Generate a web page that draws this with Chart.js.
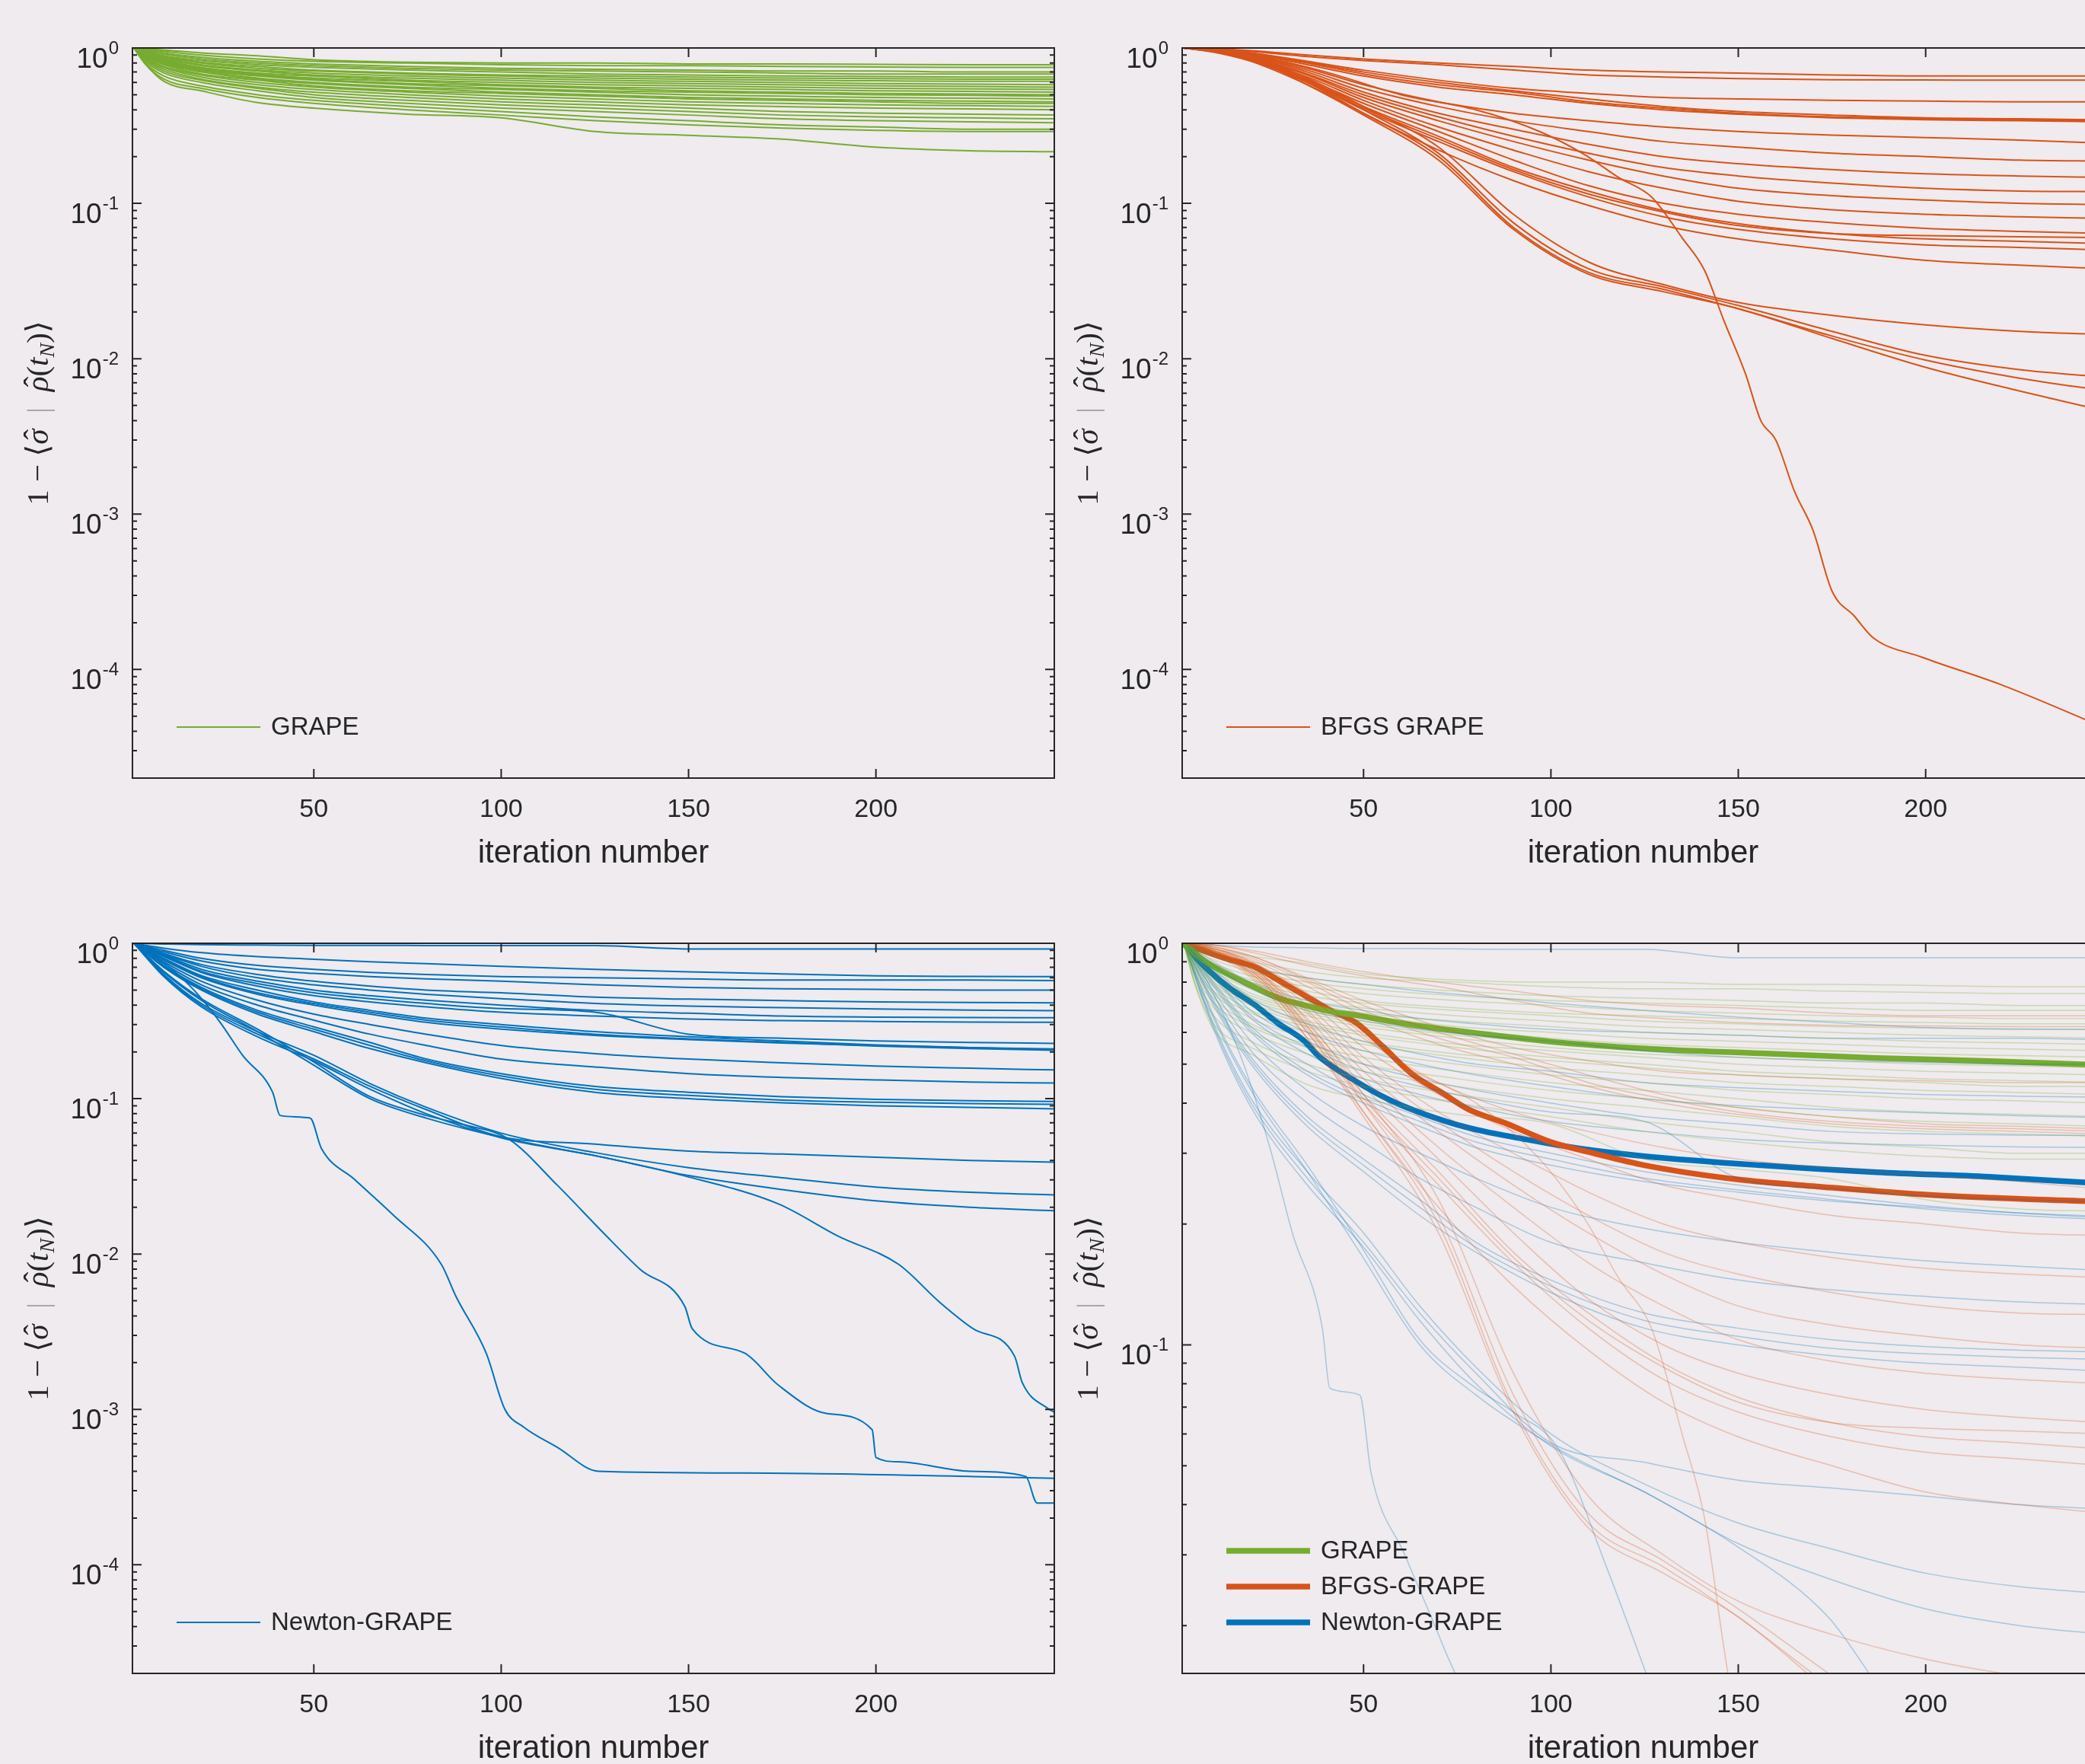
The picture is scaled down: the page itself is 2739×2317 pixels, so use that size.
<!DOCTYPE html>
<html>
<head>
<meta charset="utf-8">
<script src="https://cdn.jsdelivr.net/npm/chart.js@4.4.1/dist/chart.umd.min.js"></script>
<style>
  html, body { margin: 0; padding: 0; background: #efebee; width: 2739px; height: 2317px; overflow: hidden; }
  body { position: relative; }
  canvas { position: absolute; }
</style>
</head>
<body>
<canvas id="grapeChart" width="1420" height="1180" style="left:0;top:0"></canvas>
<canvas id="bfgsChart" width="1420" height="1180" style="left:1379px;top:0"></canvas>
<canvas id="newtonChart" width="1420" height="1180" style="left:0;top:1176px"></canvas>
<canvas id="compareChart" width="1420" height="1180" style="left:1379px;top:1176px"></canvas>
<script>
// axis ranges and ticks
const xMin = 1.6, xMax = 247.6;
const xTickValues = [50, 100, 150, 200];
const yMinRuns = 2e-5;
const yMinCompare = 0.0152;

// GRAPE runs (top left)
const grapeIters = [2, 5, 10, 20, 35, 50, 75, 100, 125, 150, 175, 200, 225, 248];
const grapeRuns = [
  [1, 0.99, 0.97, 0.93, 0.89, 0.84, 0.81, 0.80, 0.80, 0.79, 0.79, 0.785, 0.78, 0.78],
  [1, 0.98, 0.95, 0.90, 0.85, 0.82, 0.80, 0.78, 0.77, 0.77, 0.76, 0.755, 0.75, 0.75],
  [1, 0.97, 0.93, 0.87, 0.82, 0.79, 0.76, 0.74, 0.73, 0.72, 0.71, 0.71, 0.70, 0.70],
  [1, 0.96, 0.91, 0.85, 0.80, 0.77, 0.74, 0.72, 0.71, 0.70, 0.69, 0.68, 0.68, 0.68],
  [1, 0.95, 0.89, 0.83, 0.78, 0.75, 0.72, 0.70, 0.68, 0.67, 0.66, 0.655, 0.65, 0.65],
  [1, 0.95, 0.88, 0.81, 0.76, 0.72, 0.69, 0.67, 0.66, 0.65, 0.64, 0.635, 0.63, 0.63],
  [1, 0.94, 0.87, 0.80, 0.74, 0.71, 0.68, 0.66, 0.64, 0.63, 0.62, 0.615, 0.61, 0.61],
  [1, 0.93, 0.86, 0.78, 0.72, 0.69, 0.66, 0.64, 0.62, 0.61, 0.60, 0.59, 0.585, 0.58],
  [1, 0.93, 0.85, 0.77, 0.71, 0.67, 0.64, 0.62, 0.60, 0.59, 0.58, 0.57, 0.565, 0.56],
  [1, 0.92, 0.84, 0.75, 0.69, 0.66, 0.62, 0.60, 0.58, 0.57, 0.56, 0.55, 0.545, 0.54],
  [1, 0.92, 0.83, 0.74, 0.68, 0.64, 0.61, 0.58, 0.56, 0.55, 0.54, 0.53, 0.525, 0.52],
  [1, 0.91, 0.82, 0.73, 0.67, 0.63, 0.59, 0.57, 0.55, 0.53, 0.52, 0.51, 0.505, 0.50],
  [1, 0.90, 0.81, 0.72, 0.66, 0.62, 0.58, 0.55, 0.53, 0.52, 0.51, 0.50, 0.495, 0.49],
  [1, 0.90, 0.80, 0.71, 0.64, 0.60, 0.56, 0.54, 0.52, 0.50, 0.49, 0.48, 0.475, 0.47],
  [1, 0.89, 0.79, 0.70, 0.63, 0.59, 0.55, 0.52, 0.50, 0.48, 0.47, 0.46, 0.455, 0.45],
  [1, 0.88, 0.78, 0.68, 0.62, 0.57, 0.53, 0.51, 0.49, 0.47, 0.46, 0.45, 0.44, 0.44],
  [1, 0.87, 0.76, 0.67, 0.60, 0.56, 0.52, 0.49, 0.47, 0.45, 0.44, 0.43, 0.425, 0.42],
  [1, 0.86, 0.75, 0.65, 0.58, 0.54, 0.50, 0.47, 0.45, 0.43, 0.42, 0.41, 0.405, 0.40],
  [1, 0.85, 0.73, 0.63, 0.56, 0.52, 0.48, 0.45, 0.43, 0.41, 0.39, 0.38, 0.375, 0.37],
  [1, 0.84, 0.71, 0.62, 0.55, 0.50, 0.46, 0.43, 0.41, 0.39, 0.37, 0.36, 0.355, 0.35],
  [1, 0.82, 0.69, 0.60, 0.53, 0.48, 0.44, 0.41, 0.39, 0.37, 0.35, 0.34, 0.335, 0.33],
  [1, 0.80, 0.66, 0.57, 0.50, 0.46, 0.42, 0.39, 0.36, 0.34, 0.32, 0.31, 0.30, 0.30],
  [1, 0.79, 0.63, 0.55, 0.48, 0.44, 0.40, 0.37, 0.34, 0.32, 0.305, 0.295, 0.29, 0.29],
  [1, 0.79, 0.61, 0.53, 0.445, 0.41, 0.375, 0.355, 0.29, 0.274, 0.259, 0.23, 0.218, 0.215]
];

// BFGS GRAPE runs (top right)
const bfgsIters = [2, 10, 20, 35, 50, 70, 90, 110, 130, 150, 175, 200, 225, 248];
const bfgsRuns = [
  [1, 0.99, 0.96, 0.90, 0.85, 0.80, 0.76, 0.72, 0.70, 0.69, 0.67, 0.66, 0.66, 0.66],
  [1, 0.99, 0.95, 0.88, 0.83, 0.78, 0.72, 0.67, 0.65, 0.635, 0.625, 0.623, 0.62, 0.62],
  [1, 0.98, 0.93, 0.82, 0.72, 0.62, 0.55, 0.51, 0.48, 0.47, 0.46, 0.455, 0.45, 0.45],
  [1, 0.98, 0.92, 0.80, 0.68, 0.58, 0.52, 0.45, 0.41, 0.38, 0.36, 0.35, 0.345, 0.34],
  [1, 0.97, 0.91, 0.78, 0.66, 0.56, 0.50, 0.44, 0.40, 0.375, 0.355, 0.345, 0.34, 0.335],
  [1, 0.98, 0.93, 0.81, 0.70, 0.60, 0.53, 0.47, 0.42, 0.39, 0.37, 0.355, 0.35, 0.345],
  [1, 0.97, 0.90, 0.74, 0.58, 0.45, 0.38, 0.34, 0.31, 0.29, 0.275, 0.265, 0.255, 0.244],
  [1, 0.97, 0.89, 0.72, 0.55, 0.42, 0.34, 0.29, 0.25, 0.23, 0.21, 0.20, 0.19, 0.187],
  [1, 0.96, 0.88, 0.70, 0.52, 0.38, 0.30, 0.24, 0.20, 0.18, 0.165, 0.155, 0.15, 0.147],
  [1, 0.96, 0.87, 0.68, 0.50, 0.36, 0.27, 0.21, 0.17, 0.15, 0.135, 0.125, 0.12, 0.119],
  [1, 0.96, 0.86, 0.67, 0.48, 0.34, 0.25, 0.19, 0.15, 0.125, 0.112, 0.105, 0.10, 0.098],
  [1, 0.95, 0.85, 0.65, 0.46, 0.31, 0.22, 0.16, 0.125, 0.103, 0.091, 0.085, 0.082, 0.080],
  [1, 0.95, 0.85, 0.63, 0.44, 0.29, 0.19, 0.13, 0.10, 0.085, 0.075, 0.069, 0.066, 0.064],
  [1, 0.95, 0.84, 0.61, 0.41, 0.26, 0.165, 0.115, 0.088, 0.072, 0.064, 0.062, 0.061, 0.060],
  [1, 0.95, 0.84, 0.62, 0.42, 0.27, 0.17, 0.12, 0.09, 0.074, 0.064, 0.059, 0.057, 0.055],
  [1, 0.95, 0.83, 0.60, 0.40, 0.25, 0.16, 0.11, 0.082, 0.068, 0.059, 0.054, 0.052, 0.050],
  [1, 0.94, 0.82, 0.58, 0.38, 0.22, 0.14, 0.097, 0.072, 0.059, 0.05, 0.043, 0.04, 0.038],
  [1, 0.96, 0.88, 0.64, 0.42, 0.23, 0.085, 0.042, 0.03, 0.023, 0.019, 0.0165, 0.015, 0.0143],
  [1, 0.96, 0.88, 0.62, 0.40, 0.21, 0.075, 0.038, 0.029, 0.022, 0.015, 0.0105, 0.0085, 0.0076],
  [1, 0.95, 0.87, 0.60, 0.38, 0.20, 0.07, 0.036, 0.028, 0.021, 0.014, 0.0098, 0.0075, 0.0062],
  [1, 0.95, 0.86, 0.58, 0.37, 0.19, 0.068, 0.035, 0.027, 0.021, 0.0135, 0.0088, 0.0062, 0.0046]
];
const bfgsFastIters = [2, 10, 20, 40, 60, 80, 97, 109, 118, 127, 135, 141, 146, 152, 156, 160, 165, 170, 175, 181, 186, 199, 220, 248];
const bfgsFastRun = [1, 0.97, 0.90, 0.70, 0.50, 0.40, 0.29, 0.206, 0.147, 0.109, 0.06, 0.037, 0.018, 0.0079, 0.004, 0.003, 0.0014, 0.00078, 0.00032, 0.00022, 0.00016, 0.00012, 0.00008, 0.000042];

// Newton-GRAPE runs (bottom left)
const newtonIters = [2, 10, 20, 35, 50, 65, 80, 100, 125, 150, 175, 200, 225, 248];
const newtonRuns = [
  [1, 0.99, 0.98, 0.975, 0.97, 0.97, 0.967, 0.966, 0.966, 0.92, 0.92, 0.92, 0.92, 0.92],
  [1, 0.93, 0.87, 0.82, 0.79, 0.76, 0.74, 0.71, 0.68, 0.655, 0.635, 0.617, 0.612, 0.61],
  [1, 0.90, 0.80, 0.72, 0.68, 0.65, 0.63, 0.61, 0.60, 0.59, 0.58, 0.58, 0.58, 0.575],
  [1, 0.88, 0.77, 0.68, 0.64, 0.61, 0.59, 0.57, 0.54, 0.52, 0.51, 0.505, 0.50, 0.50],
  [1, 0.86, 0.73, 0.63, 0.57, 0.53, 0.50, 0.48, 0.45, 0.437, 0.428, 0.42, 0.416, 0.414],
  [1, 0.85, 0.71, 0.60, 0.54, 0.50, 0.47, 0.44, 0.41, 0.394, 0.385, 0.378, 0.372, 0.368],
  [1, 0.84, 0.68, 0.57, 0.50, 0.46, 0.43, 0.40, 0.37, 0.355, 0.34, 0.335, 0.333, 0.332],
  [1, 0.83, 0.66, 0.55, 0.48, 0.44, 0.41, 0.38, 0.36, 0.26, 0.245, 0.235, 0.23, 0.227],
  [1, 0.82, 0.65, 0.53, 0.46, 0.42, 0.39, 0.36, 0.34, 0.325, 0.318, 0.314, 0.311, 0.31],
  [1, 0.80, 0.62, 0.50, 0.42, 0.37, 0.33, 0.30, 0.27, 0.25, 0.235, 0.222, 0.213, 0.207],
  [1, 0.79, 0.61, 0.48, 0.41, 0.36, 0.32, 0.29, 0.26, 0.243, 0.23, 0.218, 0.21, 0.205],
  [1, 0.78, 0.60, 0.47, 0.40, 0.35, 0.31, 0.28, 0.255, 0.24, 0.228, 0.22, 0.213, 0.209],
  [1, 0.76, 0.57, 0.43, 0.35, 0.30, 0.26, 0.22, 0.195, 0.18, 0.17, 0.162, 0.157, 0.153],
  [1, 0.74, 0.54, 0.40, 0.32, 0.26, 0.22, 0.18, 0.16, 0.145, 0.137, 0.132, 0.128, 0.126],
  [1, 0.72, 0.52, 0.37, 0.29, 0.23, 0.18, 0.145, 0.12, 0.11, 0.103, 0.099, 0.097, 0.096],
  [1, 0.71, 0.51, 0.36, 0.28, 0.22, 0.175, 0.14, 0.115, 0.105, 0.098, 0.095, 0.093, 0.092],
  [1, 0.70, 0.50, 0.35, 0.27, 0.21, 0.17, 0.135, 0.11, 0.10, 0.094, 0.09, 0.088, 0.086],
  [1, 0.62, 0.40, 0.26, 0.18, 0.12, 0.085, 0.057, 0.051, 0.046, 0.044, 0.042, 0.040, 0.039],
  [1, 0.61, 0.39, 0.25, 0.175, 0.115, 0.08, 0.056, 0.043, 0.032, 0.026, 0.022, 0.020, 0.019],
  [1, 0.63, 0.41, 0.27, 0.19, 0.125, 0.088, 0.06, 0.045, 0.036, 0.031, 0.027, 0.025, 0.024]
];
const newtonFastIters = [
  [2, 10, 18, 25, 31, 39, 41, 49, 52, 61, 71, 84, 88, 96, 101, 106, 115, 126, 165, 226, 248],
  [2, 10, 20, 35, 49, 65, 80, 90, 102, 115, 127, 137, 149, 151, 165, 174, 187, 199, 200, 206, 225, 240, 243, 248],
  [2, 10, 20, 35, 49, 65, 80, 102, 127, 149, 174, 190, 206, 217, 226, 237, 239, 246, 248]
];
const newtonFastRuns = [
  [1, 0.75, 0.50, 0.31, 0.19, 0.11, 0.078, 0.075, 0.048, 0.03, 0.018, 0.0086, 0.0053, 0.0023, 0.001, 0.00077, 0.00057, 0.0004, 0.00039, 0.00037, 0.00036],
  [1, 0.66, 0.44, 0.28, 0.178, 0.103, 0.078, 0.068, 0.055, 0.0277, 0.0139, 0.008, 0.0046, 0.0033, 0.0023, 0.00143, 0.00094, 0.00074, 0.00049, 0.00046, 0.0004, 0.00037, 0.00025, 0.00025],
  [1, 0.65, 0.43, 0.27, 0.17, 0.10, 0.075, 0.055, 0.042, 0.0318, 0.021, 0.013, 0.0086, 0.0049, 0.0033, 0.0022, 0.0015, 0.00101, 0.00095]
];

// averaged curves (bottom right)
const grapeMeanIters = [2, 7, 14, 21, 27, 34, 41, 48, 63, 78, 100, 125, 156, 187, 217, 248];
const grapeMean = [1, 0.912, 0.836, 0.777, 0.733, 0.702, 0.677, 0.662, 0.626, 0.601, 0.569, 0.547, 0.532, 0.518, 0.509, 0.497];
const bfgsMeanIters = [2, 7, 14, 21, 27, 34, 41, 48, 55, 63, 71, 78, 88, 100, 112, 125, 150, 171, 202, 248];
const bfgsMean = [1, 0.96, 0.912, 0.873, 0.812, 0.744, 0.682, 0.634, 0.555, 0.472, 0.424, 0.386, 0.356, 0.32, 0.299, 0.28, 0.258, 0.248, 0.236, 0.227];
const newtonMeanIters = [2, 7, 14, 21, 27, 34, 38, 48, 57, 66, 78, 94, 109, 125, 156, 187, 217, 248];
const newtonMean = [1, 0.886, 0.777, 0.702, 0.634, 0.573, 0.524, 0.453, 0.407, 0.376, 0.347, 0.324, 0.307, 0.295, 0.28, 0.269, 0.262, 0.252];

const GREEN = '#77ac30', ORANGE = '#d95319', BLUE = '#0072bd';
const GREEN_FADE = 'rgba(119,172,48,0.3)', ORANGE_FADE = 'rgba(217,83,25,0.3)', BLUE_FADE = 'rgba(0,114,189,0.3)';
const INK = '#262626';
const SANS = '"Liberation Sans", Arial, Helvetica, sans-serif';
const SERIF = '"Liberation Serif", "DejaVu Serif", serif';

function lineSet(iters, vals, color, width) {
  return {
    data: vals.map((v, i) => ({ x: iters[i], y: v })),
    borderColor: color,
    borderWidth: width,
    pointRadius: 0,
    cubicInterpolationMode: 'monotone',
    fill: false
  };
}

function runSets(iters, runs, color, width) {
  return runs.map(vals => lineSet(iters, vals, color, width));
}

// box, inward ticks, y labels with exponents, y title and legend, drawn like the original figure
const matlabAxes = {
  id: 'matlabAxes',
  afterDraw(chart, args, opts) {
    const ctx = chart.ctx;
    const a = chart.chartArea;
    const xs = chart.scales.x, ys = chart.scales.y;
    ctx.save();

    ctx.strokeStyle = INK;
    ctx.lineWidth = 2;
    ctx.beginPath();
    ctx.rect(a.left, a.top, a.right - a.left, a.bottom - a.top);
    xTickValues.forEach(v => {
      const px = xs.getPixelForValue(v);
      ctx.moveTo(px, a.bottom); ctx.lineTo(px, a.bottom - 12);
      ctx.moveTo(px, a.top); ctx.lineTo(px, a.top + 12);
    });
    for (let k = -5; k <= 0; k++) {
      for (let m = 1; m <= 9; m++) {
        const v = m * Math.pow(10, k);
        if (v < ys.min * 0.999 || v > ys.max * 1.001) continue;
        const py = ys.getPixelForValue(v);
        const len = m === 1 ? 12 : 6;
        ctx.moveTo(a.left, py); ctx.lineTo(a.left + len, py);
        ctx.moveTo(a.right, py); ctx.lineTo(a.right - len, py);
      }
    }
    ctx.stroke();

    // decade labels 10^k
    ctx.fillStyle = INK;
    ctx.textAlign = 'left';
    ctx.textBaseline = 'alphabetic';
    for (let k = -5; k <= 0; k++) {
      const v = Math.pow(10, k);
      if (v < ys.min) continue;
      const py = ys.getPixelForValue(v);
      const exp = k === 0 ? '0' : '-' + (-k);
      const right = a.left - 18;
      ctx.font = '24px ' + SANS;
      const we = ctx.measureText(exp).width;
      ctx.fillText(exp, right - we, py + 8);
      ctx.font = '37px ' + SANS;
      const wb = ctx.measureText('10').width;
      ctx.fillText('10', right - we - wb - 1, py + 26);
    }

    // y title: 1 − ⟨σ̂ | ρ̂(t_N)⟩
    const F = 41;
    const up = F + 'px ' + SERIF, it = 'italic ' + F + 'px ' + SERIF;
    const parts = [
      { t: '1 \u2212 \u27e8', f: up },
      { t: '\u03c3', f: it, hat: true },
      { t: '\u2002|\u2002', f: up, c: '#a8a8a8' },
      { t: '\u03c1', f: it, hat: true },
      { t: '(', f: up },
      { t: 't', f: it },
      { t: 'N', f: 'italic 28px ' + SERIF, dy: 8 },
      { t: ')\u27e9', f: up }
    ];
    let total = 0;
    parts.forEach(p => { ctx.font = p.f; p.w = ctx.measureText(p.t).width; total += p.w; });
    ctx.translate(a.left - 111, (a.top + a.bottom) / 2);
    ctx.rotate(-Math.PI / 2);
    let x = -total / 2;
    parts.forEach(p => {
      ctx.font = p.f;
      ctx.fillStyle = p.c || INK;
      ctx.fillText(p.t, x, p.dy || 0);
      if (p.hat) {
        ctx.font = F + 'px ' + SERIF;
        const hw = ctx.measureText('\u02c6').width;
        ctx.fillText('\u02c6', x + p.w / 2 - hw / 2 + 3, -4);
      }
      x += p.w;
    });
    ctx.setTransform(1, 0, 0, 1, 0, 0);

    // legend in the lower left corner
    const items = opts.legend || [];
    ctx.textBaseline = 'middle';
    ctx.font = '33px ' + SANS;
    items.forEach((item, i) => {
      const y = a.bottom - 67 - (items.length - 1 - i) * 47;
      ctx.strokeStyle = item.color;
      ctx.lineWidth = item.width;
      ctx.beginPath();
      ctx.moveTo(a.left + 58, y);
      ctx.lineTo(a.left + 168, y);
      ctx.stroke();
      ctx.fillStyle = INK;
      ctx.fillText(item.label, a.left + 182, y + 1);
    });
    ctx.restore();
  }
};

function panelConfig(datasets, yMin, legendItems) {
  return {
    type: 'line',
    data: { datasets: datasets },
    options: {
      responsive: false,
      animation: false,
      events: [],
      layout: { autoPadding: false, padding: { top: 63, right: 35, left: 0, bottom: 0 } },
      plugins: {
        legend: { display: false },
        tooltip: { enabled: false },
        matlabAxes: { legend: legendItems }
      },
      scales: {
        x: {
          type: 'linear',
          min: xMin,
          max: xMax,
          afterFit: s => { s.height = 158; },
          afterBuildTicks: s => { s.ticks = xTickValues.map(v => ({ value: v })); },
          grid: { display: false },
          border: { display: false },
          ticks: { font: { size: 34, family: SANS }, color: INK, padding: 13, maxRotation: 0, autoSkip: false },
          title: {
            display: true,
            text: 'iteration number',
            font: { size: 42, family: SANS },
            color: INK,
            padding: { top: 0, bottom: 33 }
          }
        },
        y: {
          type: 'logarithmic',
          min: yMin,
          max: 1,
          afterFit: s => { s.width = 174; },
          grid: { display: false },
          border: { display: false },
          ticks: { display: false }
        }
      }
    },
    plugins: [matlabAxes]
  };
}

new Chart(document.getElementById('grapeChart'), panelConfig(
  runSets(grapeIters, grapeRuns, GREEN, 2),
  yMinRuns,
  [{ label: 'GRAPE', color: GREEN, width: 2 }]
));

new Chart(document.getElementById('bfgsChart'), panelConfig(
  runSets(bfgsIters, bfgsRuns, ORANGE, 2).concat([lineSet(bfgsFastIters, bfgsFastRun, ORANGE, 2)]),
  yMinRuns,
  [{ label: 'BFGS GRAPE', color: ORANGE, width: 2 }]
));

new Chart(document.getElementById('newtonChart'), panelConfig(
  runSets(newtonIters, newtonRuns, BLUE, 2).concat(
    newtonFastRuns.map((vals, i) => lineSet(newtonFastIters[i], vals, BLUE, 2))),
  yMinRuns,
  [{ label: 'Newton-GRAPE', color: BLUE, width: 2 }]
));

const compareSets = []
  .concat(runSets(grapeIters, grapeRuns, GREEN_FADE, 1.5))
  .concat(runSets(bfgsIters, bfgsRuns, ORANGE_FADE, 1.5))
  .concat([lineSet(bfgsFastIters, bfgsFastRun, ORANGE_FADE, 1.5)])
  .concat(runSets(newtonIters, newtonRuns, BLUE_FADE, 1.5))
  .concat(newtonFastRuns.map((vals, i) => lineSet(newtonFastIters[i], vals, BLUE_FADE, 1.5)))
  .concat([
    lineSet(grapeMeanIters, grapeMean, GREEN, 7.5),
    lineSet(bfgsMeanIters, bfgsMean, ORANGE, 7.5),
    lineSet(newtonMeanIters, newtonMean, BLUE, 7.5)
  ]);

new Chart(document.getElementById('compareChart'), panelConfig(
  compareSets,
  yMinCompare,
  [
    { label: 'GRAPE', color: GREEN, width: 7.5 },
    { label: 'BFGS-GRAPE', color: ORANGE, width: 7.5 },
    { label: 'Newton-GRAPE', color: BLUE, width: 7.5 }
  ]
));
</script>
</body>
</html>
